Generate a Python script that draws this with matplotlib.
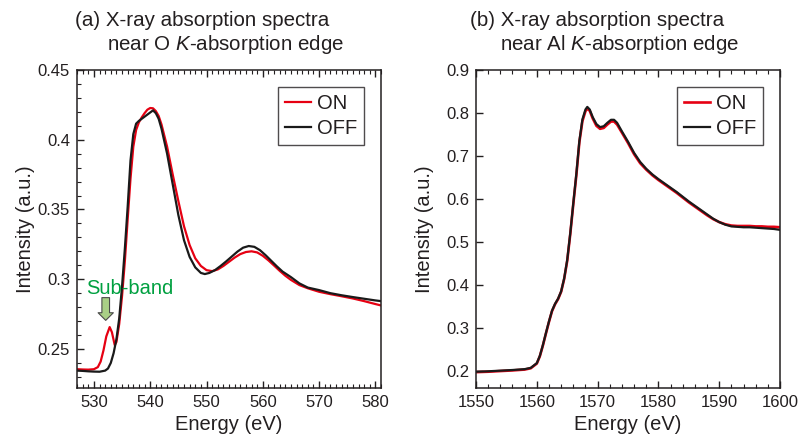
import numpy as np
import matplotlib
matplotlib.use('Agg')
import matplotlib.pyplot as plt
from matplotlib.ticker import MultipleLocator

plt.rcParams['font.family'] = ['Liberation Sans', 'DejaVu Sans']
plt.rcParams['mathtext.fontset'] = 'custom'
plt.rcParams['mathtext.it'] = 'Liberation Sans:italic'
plt.rcParams['mathtext.rm'] = 'Liberation Sans'

# (a) O K-edge
o_on_e = [527, 528, 529, 530, 530.7, 531.2, 531.7, 532.2, 532.8, 533.2, 533.7, 534.0,
          534.5, 535, 535.5, 536, 536.5, 537, 537.5, 538, 538.5, 539, 539.5, 540,
          540.5, 541, 541.5, 542, 543, 544, 545, 546, 547, 548, 549, 550, 551, 552,
          553, 554, 555, 556, 557, 558, 559, 560, 561, 562, 563, 564, 565, 566.5,
          568, 570, 572, 574, 576, 578, 580, 581]
o_on_i = [0.2355, 0.2353, 0.2352, 0.2355, 0.237, 0.241, 0.249, 0.259, 0.2657, 0.262,
          0.2528, 0.255, 0.268, 0.288, 0.313, 0.343, 0.372, 0.395, 0.407, 0.4125,
          0.416, 0.419, 0.4215, 0.4227, 0.4225, 0.4205, 0.417, 0.411, 0.395, 0.375,
          0.356, 0.338, 0.3245, 0.315, 0.3095, 0.3065, 0.3058, 0.307, 0.3095, 0.3125,
          0.3155, 0.318, 0.3195, 0.320, 0.3192, 0.3168, 0.3135, 0.3098, 0.306, 0.3025,
          0.2995, 0.2958, 0.2935, 0.291, 0.2893, 0.2878, 0.2862, 0.2843, 0.2822, 0.2812]

o_off_e = [527, 528, 529, 530, 531, 532, 532.5, 533, 533.5, 534, 534.5, 535, 535.5,
           536, 536.5, 537, 537.5, 538, 538.5, 539, 539.5, 540, 540.5, 541, 541.5,
           542, 543, 544, 545, 546, 547, 548, 549, 549.7, 550.5, 551.5, 552.5, 553.5,
           554.5, 555.5, 556.5, 557.5, 558.5, 559.5, 560.5, 561.5, 562.5, 563.5, 565,
           566.5, 568, 570, 572, 574, 576, 578, 580, 581]
o_off_i = [0.2345, 0.2343, 0.2340, 0.2338, 0.2337, 0.2345, 0.236, 0.240, 0.247, 0.257,
           0.272, 0.295, 0.322, 0.352, 0.385, 0.404, 0.4115, 0.4135, 0.415, 0.4165,
           0.418, 0.4195, 0.4210, 0.419, 0.415, 0.408, 0.390, 0.368, 0.346, 0.328,
           0.316, 0.3085, 0.3045, 0.3037, 0.3045, 0.3065, 0.3095, 0.3128, 0.3163,
           0.3198, 0.3226, 0.3238, 0.3232, 0.3208, 0.3172, 0.3132, 0.3092, 0.3055,
           0.3015, 0.297, 0.294, 0.2922, 0.290, 0.2885, 0.2872, 0.286, 0.2848, 0.2843]

# (b) Al K-edge
al_e = [1550, 1552, 1554, 1556, 1558, 1559, 1560, 1560.5, 1561, 1561.5, 1562, 1562.5,
        1563, 1563.5, 1564, 1564.5, 1565, 1565.5, 1566, 1566.5, 1567, 1567.5, 1568,
        1568.3, 1568.7, 1569.2, 1569.8, 1570.4, 1571, 1571.6, 1572.2, 1572.7, 1573.2,
        1574, 1575, 1576, 1577, 1578, 1579, 1580, 1581, 1582, 1583, 1584, 1585, 1586,
        1587, 1588, 1589, 1590, 1591, 1592, 1593, 1594, 1595, 1596, 1597, 1598, 1599,
        1600]
al_off = [0.198, 0.199, 0.2005, 0.202, 0.204, 0.207, 0.218, 0.235, 0.260, 0.288, 0.315,
          0.340, 0.356, 0.368, 0.385, 0.415, 0.458, 0.52, 0.59, 0.658, 0.735, 0.785,
          0.808, 0.814, 0.808, 0.790, 0.774, 0.767, 0.769, 0.777, 0.784, 0.784, 0.777,
          0.757, 0.733, 0.707, 0.686, 0.670, 0.657, 0.646, 0.636, 0.626, 0.616, 0.605,
          0.594, 0.584, 0.574, 0.564, 0.554, 0.546, 0.540, 0.536, 0.535, 0.534, 0.534,
          0.533, 0.532, 0.531, 0.530, 0.528]
al_on = [0.197, 0.198, 0.1995, 0.201, 0.203, 0.206, 0.217, 0.234, 0.259, 0.287, 0.314,
         0.339, 0.355, 0.367, 0.384, 0.414, 0.456, 0.518, 0.588, 0.655, 0.732, 0.781,
         0.804, 0.810, 0.805, 0.787, 0.770, 0.763, 0.765, 0.773, 0.780, 0.780, 0.773,
         0.754, 0.730, 0.704, 0.683, 0.668, 0.655, 0.644, 0.634, 0.624, 0.614, 0.603,
         0.592, 0.582, 0.572, 0.562, 0.553, 0.546, 0.541, 0.538, 0.537, 0.537, 0.537,
         0.536, 0.536, 0.535, 0.535, 0.534]

red = '#e60012'
blk = '#1a1a1a'
txt = '#231f20'

fig = plt.figure(figsize=(7.98, 4.37), dpi=100)
axa = fig.add_axes([0.0965, 0.112, 0.381, 0.728])
axb = fig.add_axes([0.5965, 0.112, 0.381, 0.728])

axa.plot(o_on_e, o_on_i, color=red, lw=1.6, label='ON')
axa.plot(o_off_e, o_off_i, color=blk, lw=1.6, label='OFF')
axb.plot(al_e, al_on, color=red, lw=1.9, label='ON')
axb.plot(al_e, al_off, color=blk, lw=1.6, label='OFF')

axa.set_xlim(527, 581)
axa.set_ylim(0.222, 0.45)
axa.xaxis.set_major_locator(MultipleLocator(10))
axa.xaxis.set_minor_locator(MultipleLocator(1))
axa.yaxis.set_minor_locator(MultipleLocator(0.01))
axa.set_yticks([0.25, 0.3, 0.35, 0.4, 0.45])
axa.set_yticklabels(['0.25', '0.3', '0.35', '0.4', '0.45'])

axb.set_xlim(1550, 1600)
axb.set_ylim(0.16, 0.9)
axb.xaxis.set_major_locator(MultipleLocator(10))
axb.xaxis.set_minor_locator(MultipleLocator(2))
axb.set_yticks([0.2, 0.3, 0.4, 0.5, 0.6, 0.7, 0.8, 0.9])
axb.set_yticklabels(['0.2', '0.3', '0.4', '0.5', '0.6', '0.7', '0.8', '0.9'])

for ax in (axa, axb):
    ax.tick_params(which='both', direction='in', top=True, right=False,
                   labelsize=12, colors=txt, pad=5)
    ax.tick_params(which='major', length=5, width=1)
    ax.tick_params(which='minor', length=3, width=0.8)
    for s in ax.spines.values():
        s.set_color(txt)
        s.set_linewidth(1.1)
    ax.set_xlabel('Energy (eV)', fontsize=14.5, color=txt)
    ax.set_ylabel('Intensity (a.u.)', fontsize=14.5, color=txt)
    ax.yaxis.set_label_coords(-0.138, 0.5)
    ax.xaxis.set_label_coords(0.5, -0.084)
    leg = ax.legend(loc='upper right', fontsize=14.5, frameon=True, fancybox=False,
                    handlelength=1.25, handletextpad=0.3, borderpad=0.35,
                    labelspacing=0.3, borderaxespad=0.85)
    leg.get_frame().set_edgecolor(txt)
    leg.get_frame().set_linewidth(1.0)
    for t in leg.get_texts():
        t.set_color(txt)

# titles
fig.text(75 / 798, 1 - 20 / 437, '(a) X-ray absorption spectra', fontsize=14.8,
         color=txt, ha='left', va='center')
fig.text(107 / 798, 1 - 44 / 437, 'near O $K$-absorption edge', fontsize=14.8,
         color=txt, ha='left', va='center')
fig.text(470 / 798, 1 - 20 / 437, '(b) X-ray absorption spectra', fontsize=14.8,
         color=txt, ha='left', va='center')
fig.text(500 / 798, 1 - 44 / 437, 'near Al $K$-absorption edge', fontsize=14.8,
         color=txt, ha='left', va='center')

# sub-band annotation
axa.text(536.4, 0.2937, 'Sub-band', fontsize=14.5, color='#00a040', ha='center',
         va='center')
axa.annotate('', xy=(532.1, 0.2705), xytext=(532.1, 0.2868),
             arrowprops=dict(arrowstyle='simple,head_length=0.55,head_width=1.1,tail_width=0.55',
                             fc='#a9cf86', ec='#4a4a4a', lw=0.8, shrinkA=0, shrinkB=0))

fig.savefig('out.png', dpi=100)
